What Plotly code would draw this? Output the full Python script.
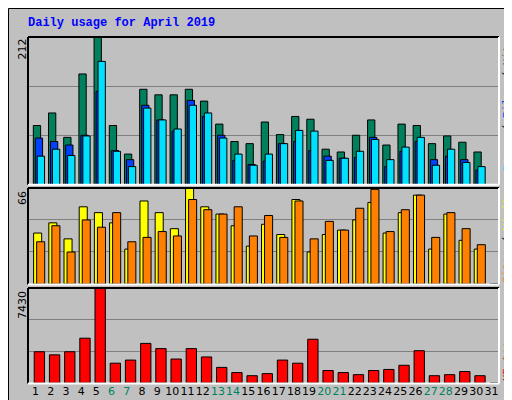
import plotly.graph_objects as go

days = list(range(1, 32))
weekend = {6, 7, 13, 14, 20, 21, 27, 28}
hits = [85,103,68,159,212,85,44,137,129,129,137,120,87,62,59,90,72,98,94,51,47,71,93,57,87,85,59,70,61,47,0]
files = [67,62,57,71,134,49,36,114,93,77,121,98,71,35,29,34,59,62,49,41,38,39,68,26,48,62,36,41,36,21,0]
pages = [41,51,42,70,177,48,26,110,93,80,114,103,67,44,28,44,59,78,77,35,38,48,65,36,54,68,28,51,32,26,0]
visits = [35,42,31,53,49,42,24,57,49,38,66,53,48,40,26,41,34,58,22,34,37,44,56,35,49,61,24,48,30,24,0]
sites = [29,40,22,44,39,49,29,32,36,33,58,51,48,53,33,47,32,57,31,43,37,52,65,36,51,61,32,49,38,27,0]
kbytes = [2441,2197,2441,3498,7430,1546,1790,3092,2685,1871,2685,2034,1220,814,570,732,1790,1546,3417,976,814,651,976,1058,1383,2522,570,651,895,570,0]
max_hits, max_visits, max_kb = 212, 66, 7430

fig = go.Figure()
def bar(y, color, off, w, xa, ya):
    fig.add_trace(go.Bar(x=days, y=y, marker=dict(color=color, line=dict(color="black", width=1)),
                         offset=off, width=w, xaxis=xa, yaxis=ya, showlegend=False, cliponaxis=False))
bar(hits, "#00805C", -0.15, 0.48, "x", "y")
bar(files, "#0040FF", -0.02, 0.48, "x", "y")
bar(pages, "#00E0FF", 0.11, 0.48, "x", "y")
bar(visits, "#FFFF00", -0.13, 0.53, "x2", "y2")
bar(sites, "#FF8000", 0.07, 0.53, "x2", "y2")
bar(kbytes, "#FF0000", -0.09, 0.68, "x3", "y3")

ticktext = [f"<span style='color:#00805C'>{d}</span>" if d in weekend else str(d) for d in days]
xcommon = dict(range=[0.5, 31.5], showgrid=False, zeroline=False, fixedrange=True, automargin=False)
ycommon = dict(showticklabels=False, gridcolor="#808080", zeroline=False, automargin=False)
fig.update_layout(
    width=512, height=400, margin=dict(l=20, r=21, t=29, b=25, autoexpand=False),
    paper_bgcolor="#C0C0C0", plot_bgcolor="#C0C0C0", barmode="overlay",
    font=dict(family="DejaVu Sans", size=11, color="black"),
    xaxis=dict(**xcommon, anchor="y", showticklabels=False),
    xaxis2=dict(**xcommon, anchor="y2", showticklabels=False),
    xaxis3=dict(**xcommon, anchor="y3", tickvals=days, ticktext=ticktext, ticks="",
                tickangle=0, tickfont=dict(size=11)),
    yaxis=dict(domain=[0.573, 1], range=[0, max_hits], tickvals=[max_hits/3, 2*max_hits/3], **ycommon),
    yaxis2=dict(domain=[0.286, 0.564], range=[0, max_visits], tickvals=[max_visits/3, 2*max_visits/3], **ycommon),
    yaxis3=dict(domain=[0, 0.275], range=[0, max_kb], tickvals=[max_kb/3, 2*max_kb/3], **ycommon),
)
W = 471.0; H = 346.0
def px(x): return (x - 20) / W
def py(y): return (375 - y) / H
shapes = []
for (t, b) in [(29, 176.7), (180, 276.5), (280, 375.5)]:
    shapes.append(dict(type="line", xref="paper", yref="paper", x0=px(20), x1=px(491), y0=py(t), y1=py(t), line=dict(color="black", width=2)))
    shapes.append(dict(type="line", xref="paper", yref="paper", x0=px(20), x1=px(20), y0=py(t), y1=py(b), line=dict(color="black", width=2)))
    shapes.append(dict(type="line", xref="paper", yref="paper", x0=px(491), x1=px(491), y0=py(t), y1=py(b), line=dict(color="white", width=2)))
    shapes.append(dict(type="line", xref="paper", yref="paper", x0=px(20), x1=px(491), y0=py(b), y1=py(b), line=dict(color="white", width=2)))
shapes.append(dict(type="rect", xref="paper", yref="paper", x0=px(504), x1=px(511), y0=py(399), y1=py(4), fillcolor="#808080", line=dict(width=0), layer="below"))
shapes.append(dict(type="rect", xref="paper", yref="paper", x0=px(4), x1=px(511), y0=py(399), y1=py(394), fillcolor="#808080", line=dict(width=0), layer="below"))
shapes.append(dict(type="rect", xref="paper", yref="paper", x0=px(0.5), x1=px(511.5), y0=py(399.5), y1=py(0.5), line=dict(color="black", width=1)))
fig.update_layout(shapes=shapes)

mono = "Liberation Mono"
ann = [
    dict(x=px(18), y=py(6), text="<b>Daily usage for April 2019</b>", font=dict(family=mono, size=12, color="#0000FF"), xanchor="left", yanchor="top"),
    dict(x=px(14), y=py(29), text=str(max_hits), textangle=-90, xanchor="center", yanchor="top"),
    dict(x=px(14), y=py(181), text=str(max_visits), textangle=-90, xanchor="center", yanchor="top"),
    dict(x=px(14), y=py(281), text=str(max_kb), textangle=-90, xanchor="center", yanchor="top"),
    dict(x=px(499), y=py(29), textangle=-90, xanchor="center", yanchor="top", font=dict(family=mono, size=11),
         text="<span style='color:#00E0FF'>Pages</span> / <span style='color:#0040FF'>Files</span> / <span style='color:#00805C'>Hits</span>"),
    dict(x=px(499), y=py(181), textangle=-90, xanchor="center", yanchor="top", font=dict(family=mono, size=11),
         text="<span style='color:#FF8000'>Sites</span> / <span style='color:#FFFF00'>Visits</span>"),
    dict(x=px(499), y=py(375), textangle=-90, xanchor="center", yanchor="bottom", font=dict(family=mono, size=11, color="#FF0000"),
         text="KBytes"),
]
for a in ann:
    a.setdefault("showarrow", False); a["xref"] = "paper"; a["yref"] = "paper"
fig.update_layout(annotations=ann)
fig.write_html("out.html")
